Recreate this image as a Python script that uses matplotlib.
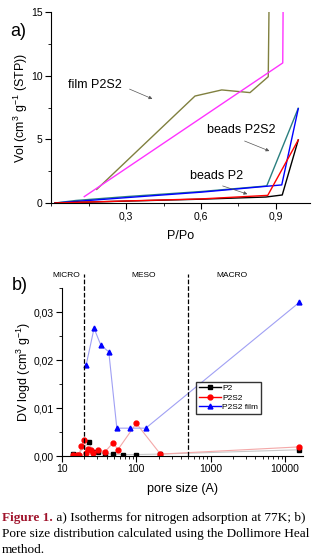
import matplotlib
matplotlib.use("Agg")
import matplotlib.pyplot as plt
from matplotlib.lines import Line2D
from matplotlib.ticker import MultipleLocator, LogLocator, NullFormatter

plt.rcParams['font.family'] = ['Liberation Sans', 'DejaVu Sans']
plt.rcParams['mathtext.default'] = 'regular'

# ---- (a) isotherms, P/Po vs volume ----
film_ads_x = [0.183, 0.576, 0.683, 0.796, 0.869, 0.873]
film_ads_y = [1.07, 8.40, 8.88, 8.67, 9.92, 17.0]
film_des_x = [0.133, 0.927, 0.929]
film_des_y = [0.50, 11.0, 17.0]
bp2s2_a_x = [0.016, 0.10, 0.30, 0.60, 0.863, 0.989]
bp2s2_a_y = [0.0, 0.20, 0.50, 0.90, 1.34, 7.44]
bp2s2_b_x = [0.016, 0.30, 0.60, 0.923, 0.989]
bp2s2_b_y = [0.0, 0.42, 0.85, 1.42, 7.40]
bp2_a_x = [0.016, 0.30, 0.60, 0.867, 0.989]
bp2_a_y = [0.0, 0.16, 0.32, 0.60, 4.95]
bp2_b_x = [0.016, 0.30, 0.60, 0.86, 0.925, 0.989]
bp2_b_y = [0.0, 0.15, 0.30, 0.47, 0.63, 4.95]

a_xticks = [0.3, 0.6, 0.9]
a_xticklabels = ["0,3", "0,6", "0,9"]
a_yticks = [0, 5, 10, 15]
a_yticklabels = ["0", "5", "10", "15"]

# ---- (b) pore size distribution ----
p2_x = [14.2, 16.2, 23.1, 25.9, 30.3, 38.1, 48.6, 67, 100, 211, 15600]
p2_y = [0.0004, 0.0003, 0.0029, 0.0009, 0.0008, 0.0005, 0.0004, 0.0003, 0.0003, 0.0004, 0.0013]
p2s2_x = [14.2, 15.7, 17.1, 18.1, 20.0, 21.1, 22.6, 24.6, 26.5, 30.3, 38.1, 48.9, 56.4, 100, 211, 15600]
p2s2_y = [0.0002, 0.0003, 0.0003, 0.0020, 0.0034, 0.0007, 0.0015, 0.0013, 0.0006, 0.0013,
          0.0009, 0.0028, 0.0013, 0.0068, 0.0004, 0.0019]
film_x = [21.1, 27.0, 33.3, 42.6, 54.7, 83, 134, 15600]
film_y = [0.0189, 0.0266, 0.0231, 0.0217, 0.0058, 0.0058, 0.0058, 0.0320]

b_yticks = [0.0, 0.01, 0.02, 0.03]
b_yticklabels = ["0,00", "0,01", "0,02", "0,03"]
b_xticks = [10, 100, 1000, 10000]
b_xticklabels = ["10", "100", "1000", "10000"]
region_bounds = [20, 500]

W, H = 326, 558
fig = plt.figure(figsize=(W / 100, H / 100), dpi=100)

ax1 = fig.add_axes([51 / W, 1 - 203 / H, 259 / W, 191 / H])
ax1.plot(film_ads_x, film_ads_y, color="#80803f", lw=1)
ax1.plot(film_des_x, film_des_y, color="#ff33ff", lw=1)
ax1.plot(bp2s2_a_x, bp2s2_a_y, color="#2a7f7f", lw=1)
ax1.plot(bp2s2_b_x, bp2s2_b_y, color="#0000ff", lw=1)
ax1.plot(bp2_b_x, bp2_b_y, color="black", lw=1)
ax1.plot(bp2_a_x, bp2_a_y, color="red", lw=1)
ax1.set_xlim(0, 1.036)
ax1.set_ylim(0, 15)
ax1.set_xticks(a_xticks)
ax1.set_xticklabels(a_xticklabels)
ax1.set_yticks(a_yticks)
ax1.set_yticklabels(a_yticklabels)
ax1.xaxis.set_minor_locator(MultipleLocator(0.15))
ax1.yaxis.set_minor_locator(MultipleLocator(2.5))
ax1.set_xlabel("P/Po", fontsize=9, labelpad=6)
ax1.set_ylabel("Vol (cm$^{3}$ g$^{-1}$ (STP))", fontsize=9, labelpad=1)

arrow_kw = dict(arrowstyle="-|>", color="#555555", lw=0.5, mutation_scale=5)
ax1.text(0.068, 9.27, "film P2S2", fontsize=9, va="center")
ax1.annotate("", xy=(0.416, 8.09), xytext=(0.304, 9.03), arrowprops=arrow_kw)
ax1.text(0.624, 5.73, "beads P2S2", fontsize=9, va="center")
ax1.annotate("", xy=(0.884, 4.0), xytext=(0.764, 4.95), arrowprops=arrow_kw)
ax1.text(0.556, 2.12, "beads P2", fontsize=9, va="center")
ax1.annotate("", xy=(0.796, 0.63), xytext=(0.676, 1.41), arrowprops=arrow_kw)
fig.text(10 / W, 1 - 32 / H, "a)", fontsize=13, va="center")

ax2 = fig.add_axes([62 / W, 1 - 456 / H, 241 / W, 168 / H])
ax2.set_xscale("log")
ax2.plot(p2_x, p2_y, color="#c8c8c8", lw=0.8)
ax2.plot(p2_x, p2_y, ls="none", marker="s", ms=3.5, color="black")
ax2.plot(p2s2_x, p2s2_y, color="#f4a8a8", lw=0.8)
ax2.plot(p2s2_x, p2s2_y, ls="none", marker="o", ms=3.5, color="red")
ax2.plot(film_x, film_y, color="#a0a0f4", lw=0.8)
ax2.plot(film_x, film_y, ls="none", marker="^", ms=3.5, color="blue")
for b in region_bounds:
    ax2.plot([b, b], [0, 0.038], color="black", ls="--", lw=0.9, clip_on=False)
ax2.text(17.7, 0.0377, "MICRO", fontsize=6, ha="right", va="center")
ax2.text(126, 0.0377, "MESO", fontsize=6, ha="center", va="center")
ax2.text(1940, 0.0377, "MACRO", fontsize=6, ha="center", va="center")
ax2.set_xlim(10, 17500)
ax2.set_ylim(0, 0.035)
ax2.set_xticks(b_xticks)
ax2.set_xticklabels(b_xticklabels)
ax2.xaxis.set_minor_locator(LogLocator(base=10, subs=range(2, 10)))
ax2.xaxis.set_minor_formatter(NullFormatter())
ax2.set_yticks(b_yticks)
ax2.set_yticklabels(b_yticklabels)
ax2.yaxis.set_minor_locator(MultipleLocator(0.005))
ax2.set_xlabel("pore size (A)", fontsize=9, labelpad=6)
ax2.set_ylabel("DV logd (cm$^{3}$ g$^{-1}$)", fontsize=9, labelpad=0.5)
fig.text(12 / W, 1 - 285 / H, "b)", fontsize=13, va="center")

handles = [Line2D([], [], color="black", marker="s", ms=3.5, lw=1),
           Line2D([], [], color="red", marker="o", ms=3.5, lw=1),
           Line2D([], [], color="blue", marker="^", ms=3.5, lw=1)]
leg = ax2.legend(handles, ["P2", "P2S2", "P2S2 film"], loc="upper left",
                 bbox_to_anchor=(0.558, 0.44), fontsize=6, frameon=True, fancybox=False,
                 handlelength=2.6, handletextpad=0.2, borderpad=0.3, labelspacing=0.2,
                 borderaxespad=0)
leg.get_frame().set_edgecolor("black")
leg.get_frame().set_linewidth(1)

for ax in (ax1, ax2):
    ax.spines["top"].set_visible(False)
    ax.spines["right"].set_visible(False)
    ax.tick_params(which="major", direction="out", length=4, width=0.8, labelsize=7.5, pad=2)
    ax.tick_params(which="minor", direction="out", length=2.5, width=0.6)

# caption
serif = ['Liberation Serif', 'DejaVu Serif']
cap_size = 9.5
t1 = fig.text(2 / W, 1 - 521 / H, "Figure 1.", fontsize=cap_size, family=serif, weight="bold",
              color="#a0142c", va="baseline")
plt.annotate(" a) Isotherms for nitrogen adsorption at 77K; b)", xy=(1, 0), xycoords=t1,
             va="bottom", ha="left", fontsize=cap_size, family=serif, color="black",
             annotation_clip=False)
fig.text(2 / W, 1 - 537.5 / H, "Pore size distribution calculated using the Dollimore Heal",
         fontsize=cap_size, family=serif, va="baseline")
fig.text(2 / W, 1 - 553 / H, "method.", fontsize=cap_size, family=serif, va="baseline")

fig.savefig("out.png", dpi=100)
